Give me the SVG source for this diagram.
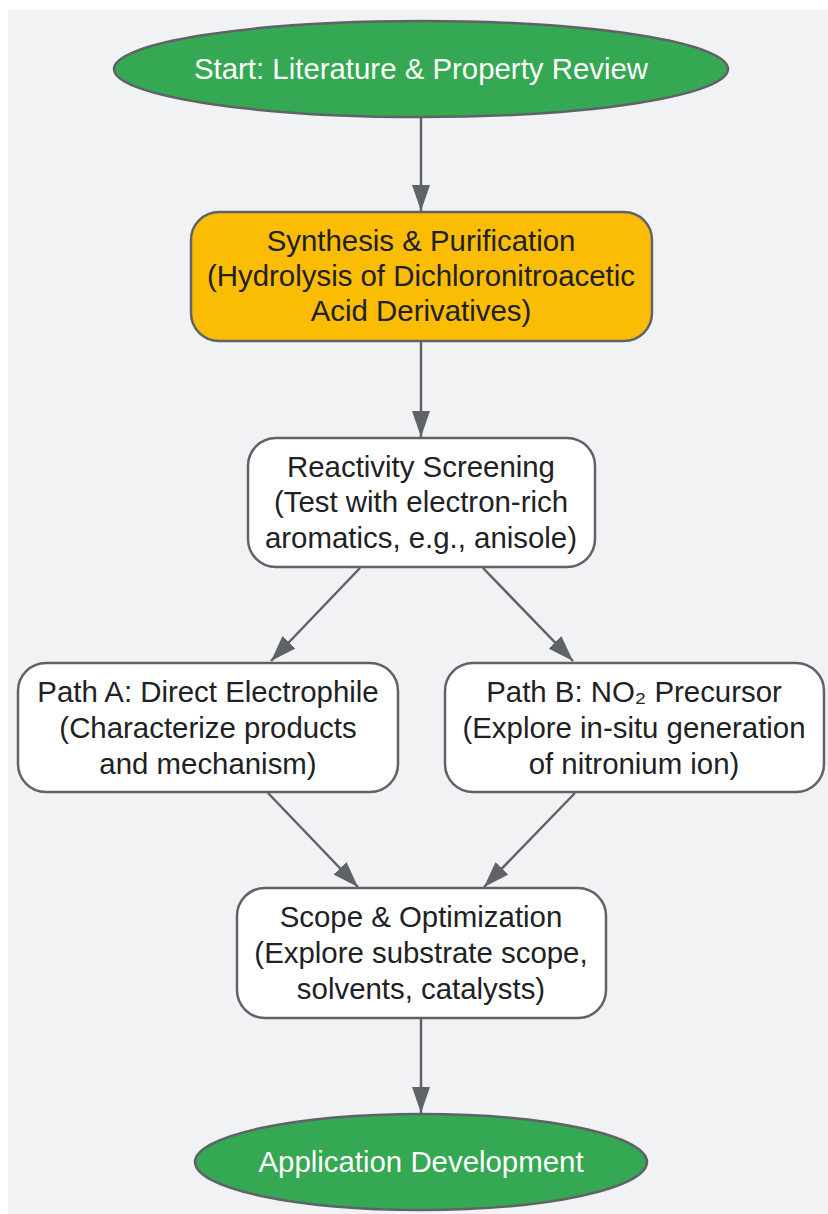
<svg xmlns="http://www.w3.org/2000/svg" width="828" height="1214" viewBox="0 0 828 1214">
<defs>
<style>
.bg{fill:#f1f2f4}
.box{fill:#ffffff;stroke:#5f6368;stroke-width:2.5}
.yel{fill:#fbbc04;stroke:#5f6368;stroke-width:2.5}
.grn{fill:#34a853;stroke:#5f6368;stroke-width:2.5}
.t{font-family:"Liberation Sans",Arial,sans-serif;font-size:29.4px;fill:#202124;text-anchor:middle}
.w{fill:#ffffff}
.edge{stroke:#5f6368;stroke-width:2.5;fill:none;marker-end:url(#ah)}
</style>
<marker id="ah" markerUnits="userSpaceOnUse" markerWidth="26" markerHeight="18" refX="26" refY="9" orient="auto">
<path d="M0,0 L26,9 L0,18 z" fill="#5f6368"/>
</marker>
</defs>
<rect class="bg" x="8" y="10" width="820" height="1204"/>
<g id="connectors">
<line class="edge" x1="421" y1="117" x2="421" y2="211"/>
<line class="edge" x1="421" y1="342" x2="421" y2="437"/>
<line class="edge" x1="360" y1="568" x2="271" y2="661"/>
<line class="edge" x1="483" y1="568" x2="573" y2="661"/>
<line class="edge" x1="268" y1="793" x2="358" y2="887"/>
<line class="edge" x1="575" y1="793" x2="484" y2="887"/>
<line class="edge" x1="421" y1="1019" x2="421" y2="1113"/>
</g>
<g id="start">
<ellipse class="grn" cx="421" cy="69" rx="307" ry="48"/>
<text class="t w" x="421" y="79">Start: Literature &amp; Property Review</text>
</g>
<g id="synthesis">
<rect class="yel" x="191" y="212" width="461" height="129" rx="28"/>
<text class="t" x="421" y="251">Synthesis &amp; Purification</text>
<text class="t" x="421" y="286">(Hydrolysis of Dichloronitroacetic</text>
<text class="t" x="421" y="321">Acid Derivatives)</text>
</g>
<g id="screening">
<rect class="box" x="248" y="438" width="347" height="129" rx="28"/>
<text class="t" x="421" y="477">Reactivity Screening</text>
<text class="t" x="421" y="512">(Test with electron-rich</text>
<text class="t" x="421" y="548">aromatics, e.g., anisole)</text>
</g>
<g id="pathA">
<rect class="box" x="18" y="663" width="380" height="129" rx="28"/>
<text class="t" x="208" y="702">Path A: Direct Electrophile</text>
<text class="t" x="208" y="738">(Characterize products</text>
<text class="t" x="208" y="774">and mechanism)</text>
</g>
<g id="pathB">
<rect class="box" x="445" y="663" width="379" height="129" rx="28"/>
<text class="t" x="634" y="702">Path B: NO₂ Precursor</text>
<text class="t" x="634" y="738">(Explore in-situ generation</text>
<text class="t" x="634" y="774">of nitronium ion)</text>
</g>
<g id="scope">
<rect class="box" x="237" y="888" width="369" height="130" rx="28"/>
<text class="t" x="421" y="927">Scope &amp; Optimization</text>
<text class="t" x="421" y="963">(Explore substrate scope,</text>
<text class="t" x="421" y="999">solvents, catalysts)</text>
</g>
<g id="application">
<ellipse class="grn" cx="421" cy="1162" rx="226" ry="48"/>
<text class="t w" x="421" y="1172">Application Development</text>
</g>
</svg>
